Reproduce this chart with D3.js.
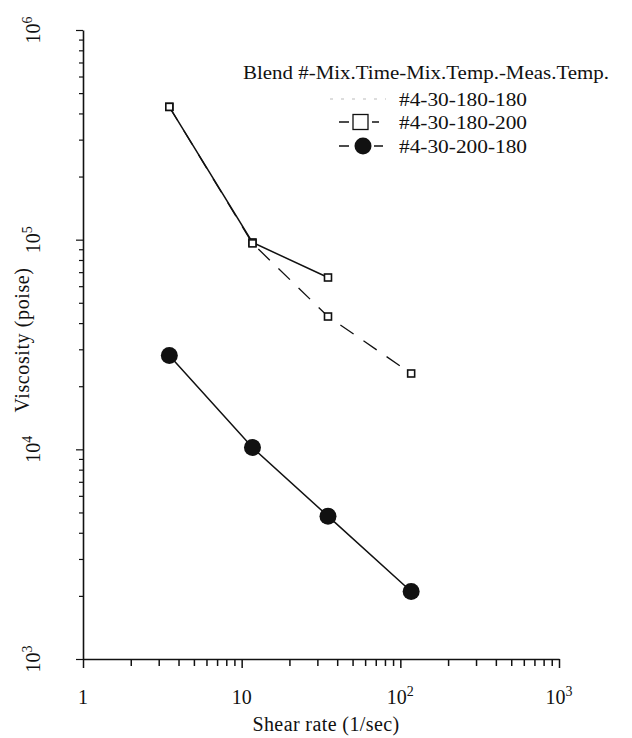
<!DOCTYPE html>
<html><head><meta charset="utf-8">
<script src="https://cdn.jsdelivr.net/npm/d3@7"></script>
<style>
body{margin:0;background:#fff}
svg{display:block}
text{font-family:"Liberation Serif","Times New Roman",serif;fill:#111}
</style>
</head><body>
<svg id="chart" width="632" height="738"></svg>
<script>
// ---- data ----
const shearRate = [3.5, 11.7, 35, 117];
const visc_180_180 = [4.3e5, 9.7e4, 6.6e4];
const visc_180_200 = [4.3e5, 9.6e4, 4.3e4, 2.3e4];
const visc_200_180 = [2.8e4, 1.02e4, 4.8e3, 2.1e3];
const seriesNames = ["#4-30-180-180", "#4-30-180-200", "#4-30-200-180"];
const legendTitle = "Blend #-Mix.Time-Mix.Temp.-Meas.Temp.";
const xTickValues = [1, 10, 100, 1000];
const xTickLabels = [["1", ""], ["10", ""], ["10", "2"], ["10", "3"]];
const yTickValues = [1e3, 1e4, 1e5, 1e6];
const yTickLabels = [["10", "3"], ["10", "4"], ["10", "5"], ["10", "6"]];
const xTitle = "Shear rate (1/sec)";
const yTitle = "Viscosity (poise)";

// ---- layout ----
const svg = d3.select("#chart");
const x = d3.scaleLog().domain([1, 1000]).range([83, 559]);
const y = d3.scaleLog().domain([1e3, 1e6]).range([659, 30]);
const ink = "#111";

function logTicks(d0, d1) {
  const t = [];
  for (let e = Math.log10(d0); e < Math.log10(d1); e++)
    for (let m = 1; m < 10; m++) t.push(m * Math.pow(10, e));
  t.push(d1);
  return t;
}
const isMajor = v => Math.abs(Math.log10(v) - Math.round(Math.log10(v))) < 1e-9;

// x axis
const gx = svg.append("g").attr("transform", `translate(0,${y(1e3)})`)
  .call(d3.axisBottom(x).tickValues(logTicks(1, 1000)).tickFormat("").tickSizeOuter(0));
gx.select(".domain").attr("stroke", ink).attr("stroke-width", 1.6);
gx.selectAll(".tick line").attr("stroke", ink).attr("stroke-width", 1.5)
  .attr("y2", d => isMajor(d) ? 9 : 7);

// y axis
const gy = svg.append("g").attr("transform", `translate(${x(1)},0)`)
  .call(d3.axisLeft(y).tickValues(logTicks(1e3, 1e6)).tickFormat("").tickSizeOuter(0));
gy.select(".domain").attr("stroke", ink).attr("stroke-width", 1.6);
gy.selectAll(".tick line").attr("stroke", ink).attr("stroke-width", 1.2)
  .attr("x2", d => isMajor(d) ? -7 : -4);

// x tick labels
xTickValues.forEach((v, i) => {
  const t = svg.append("text").attr("x", x(v)).attr("y", 704)
    .attr("text-anchor", "middle").attr("font-size", 20);
  t.append("tspan").text(xTickLabels[i][0]);
  if (xTickLabels[i][1]) t.append("tspan").attr("font-size", 14).attr("dy", -8).text(xTickLabels[i][1]);
});
// y tick labels (rotated)
yTickValues.forEach((v, i) => {
  const t = svg.append("text")
    .attr("transform", `translate(40,${y(v)}) rotate(-90)`)
    .attr("text-anchor", "middle").attr("font-size", 20);
  t.append("tspan").text(yTickLabels[i][0]);
  t.append("tspan").attr("font-size", 14).attr("dy", -8).text(yTickLabels[i][1]);
});

// axis titles
svg.append("text").attr("x", 326).attr("y", 731).attr("text-anchor", "middle")
  .attr("font-size", 20).attr("letter-spacing", 0.4).text(xTitle);
svg.append("text").attr("transform", `translate(29,340) rotate(-90)`)
  .attr("text-anchor", "middle").attr("font-size", 20).attr("letter-spacing", 0.6).text(yTitle);

// ---- series ----
const line = d3.line().x(d => x(d[0])).y(d => y(d[1]));
const sA = visc_180_180.map((v, i) => [shearRate[i], v]);
const sB = visc_180_200.map((v, i) => [shearRate[i], v]);
const sC = visc_200_180.map((v, i) => [shearRate[i], v]);

svg.append("path").datum(sB).attr("d", line).attr("fill", "none")
  .attr("stroke", ink).attr("stroke-width", 1.3).attr("stroke-dasharray", "16,12");
svg.append("path").datum(sA).attr("d", line).attr("fill", "none")
  .attr("stroke", ink).attr("stroke-width", 1.5);
svg.append("path").datum(sC).attr("d", line).attr("fill", "none")
  .attr("stroke", ink).attr("stroke-width", 1.5);

// small open squares for A and B
[...sA, ...sB].forEach(d => {
  svg.append("rect").attr("x", x(d[0]) - 3.5).attr("y", y(d[1]) - 3.5)
    .attr("width", 7).attr("height", 7).attr("fill", "#fff")
    .attr("stroke", ink).attr("stroke-width", 1.6);
});
svg.selectAll("circle.pt").data(sC).join("circle").attr("class", "pt")
  .attr("cx", d => x(d[0])).attr("cy", d => y(d[1])).attr("r", 8.5).attr("fill", ink);

// ---- legend ----
svg.append("text").attr("x", 243).attr("y", 79).attr("font-size", 19)
  .attr("textLength", 366).attr("lengthAdjust", "spacingAndGlyphs").text(legendTitle);
const ly = [99, 122, 146];
const lg = svg.append("g");
// entry A: faint dashed
lg.append("line").attr("x1", 330).attr("x2", 386).attr("y1", ly[0]).attr("y2", ly[0])
  .attr("stroke", "#bbb").attr("stroke-width", 1).attr("stroke-dasharray", "3,8");
// entry B: dash, square, dash
lg.append("line").attr("x1", 339).attr("x2", 349).attr("y1", ly[1]).attr("y2", ly[1]).attr("stroke", ink).attr("stroke-width", 1.5);
lg.append("rect").attr("x", 353).attr("y", ly[1] - 7.5).attr("width", 15).attr("height", 15)
  .attr("fill", "#fff").attr("stroke", ink).attr("stroke-width", 1.3);
lg.append("line").attr("x1", 372).attr("x2", 379).attr("y1", ly[1]).attr("y2", ly[1]).attr("stroke", ink).attr("stroke-width", 1.5);
// entry C
lg.append("line").attr("x1", 339).attr("x2", 349).attr("y1", ly[2]).attr("y2", ly[2]).attr("stroke", ink).attr("stroke-width", 1.5);
lg.append("circle").attr("cx", 363).attr("cy", ly[2]).attr("r", 8.5).attr("fill", ink);
lg.append("line").attr("x1", 374).attr("x2", 383).attr("y1", ly[2]).attr("y2", ly[2]).attr("stroke", ink).attr("stroke-width", 1.5);
seriesNames.forEach((n, i) => {
  lg.append("text").attr("x", 399).attr("y", ly[i] + 7).attr("font-size", 19)
    .attr("textLength", 128).attr("lengthAdjust", "spacingAndGlyphs").text(n);
});
</script>
</body></html>
